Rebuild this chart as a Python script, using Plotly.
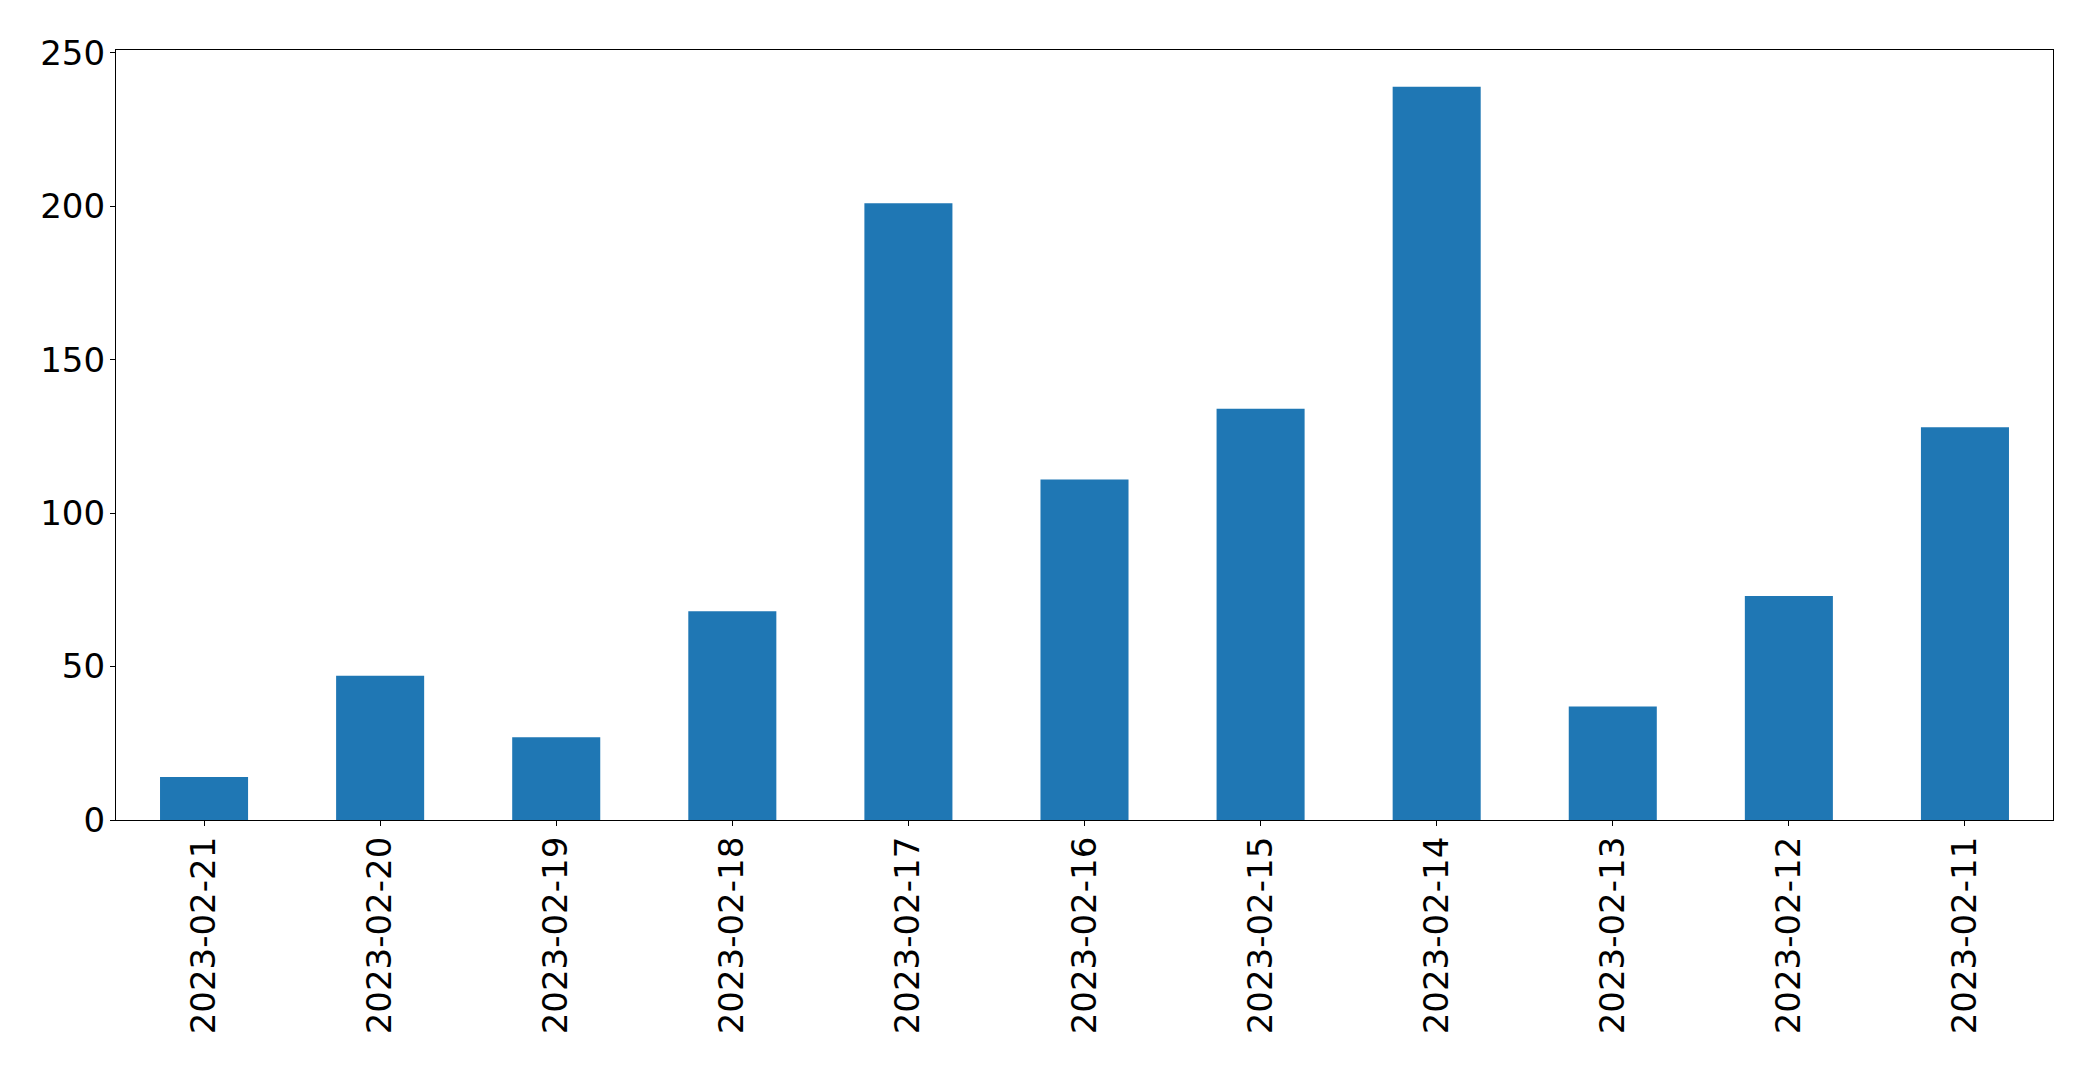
import plotly.graph_objects as go

dates = ["2023-02-21", "2023-02-20", "2023-02-19", "2023-02-18", "2023-02-17",
         "2023-02-16", "2023-02-15", "2023-02-14", "2023-02-13", "2023-02-12",
         "2023-02-11"]
counts = [14, 47, 27, 68, 201, 111, 134, 239, 37, 73, 128]
y_ticks = [0, 50, 100, 150, 200, 250]

fig = go.Figure(go.Bar(x=dates, y=counts, marker=dict(color="#1f77b4", line=dict(width=0))))

font = dict(family="DejaVu Sans", size=34, color="black")
fig.update_layout(
    width=2093, height=1072,
    margin=dict(l=116, r=40, t=50, b=252, pad=0),
    paper_bgcolor="white", plot_bgcolor="white",
    bargap=0.5, showlegend=False,
    font=font,
)
fig.update_xaxes(
    type="category", range=[-0.5, len(dates) - 0.5],
    tickangle=-90, tickfont=font,
    showline=True, mirror=True, linecolor="black", linewidth=1.3,
    ticks="outside", ticklen=5, tickwidth=1.3, tickcolor="black",
    showgrid=False, zeroline=False, ticklabelstandoff=-3,
)
fig.update_yaxes(
    range=[0, max(counts) * 1.05], tickvals=y_ticks, tickfont=font,
    showline=True, mirror=True, linecolor="black", linewidth=1.3,
    ticks="outside", ticklen=5, tickwidth=1.3, tickcolor="black",
    showgrid=False, zeroline=False, ticklabelstandoff=-2,
)
fig.write_html("out.html")
